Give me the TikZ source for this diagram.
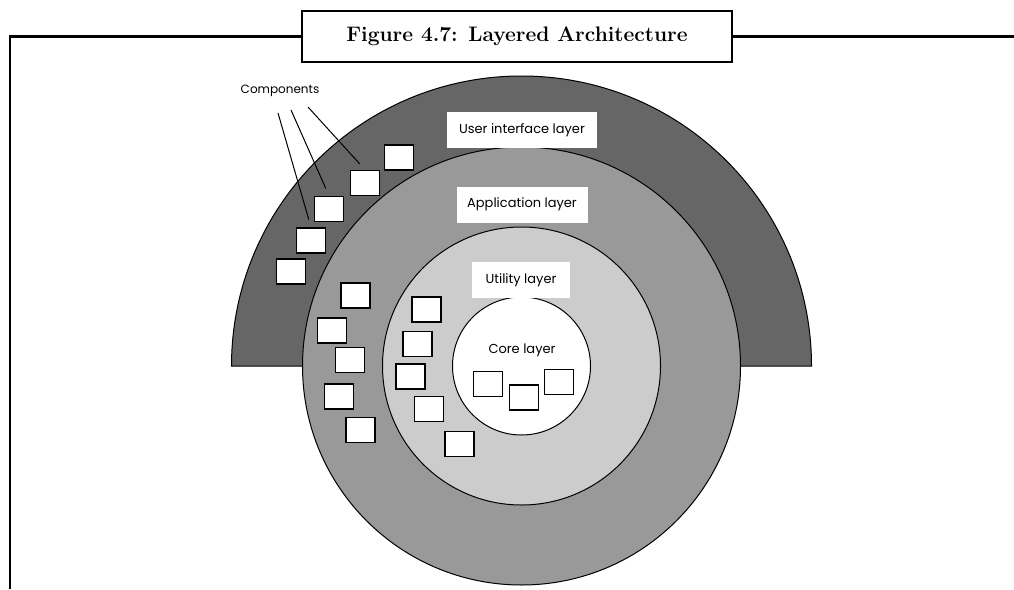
\documentclass[tikz,border=0pt]{standalone}
\usepackage{fontspec}
\newfontfamily\labelfont{Poppins}
\colorlet{uiGray}{black!60}
\colorlet{appGray}{black!40}
\colorlet{utilGray}{black!20}

\begin{document}
\begin{tikzpicture}[
    x=1pt, y=-1pt,
    layer/.style={circle, draw=black, line width=1pt, inner sep=0},
    comp/.style={
        rectangle,
        minimum width=29pt,
        minimum height=25pt,
        inner sep=0,
        draw=black,
        line width=1.6pt,
        fill=white,
      },
    lbl/.style={rectangle, fill=white, minimum height=36pt, inner xsep=9pt,
        font=\labelfont\fontsize{13}{15}\selectfont},
    pointer/.style={line width=1pt, shorten >=8pt},
  ]
  \useasboundingbox (0,0) rectangle (1014,589);

  % title and frame
  \node[draw=black, line width=2.2pt, minimum width=430pt, minimum height=51pt,
    font=\bfseries\fontsize{21}{24}\selectfont] (title) at (517,36.5)
    {Figure 4.7: Layered Architecture};
  \draw[line width=2.5pt] (10,589) |- (title.west);
  \draw[line width=2.5pt] (title.east) -- (1014,36.5);

  % layers
  \coordinate (ctr) at (521.5,366);
  \draw[line width=1pt, fill=uiGray] (ctr) ++(290,0)
    arc[start angle=0, end angle=-180, radius=290] -- cycle;
  \node[layer, fill=appGray, minimum size=438pt] (app) at (ctr) {};
  \node[layer, fill=utilGray, minimum size=278pt] (util) at (ctr) {};
  \node[layer, fill=white, minimum size=138pt] (core) at (ctr) {};

  \node[lbl, minimum width=150pt] (uiL) at (522,130) {User interface layer};
  \node[lbl, minimum width=131pt] (appL) at (522,204.5) {Application layer};
  \node[lbl, minimum width=98pt] (utilL) at (521,280) {Utility layer};
  \node[font=\labelfont\fontsize{13}{15}\selectfont] (coreL) at (522,350) {Core layer};

  % components in the user interface layer
  \node[comp] (u1) at (399,157.5) {};
  \node[comp] (u2) at (365,183) {};
  \node[comp] (u3) at (329,209) {};
  \node[comp] (u4) at (311,240.5) {};
  \node[comp] (u5) at (291,271.5) {};

  % components in the application layer
  \node[comp] (a1) at (355.5,295.5) {};
  \node[comp] (a2) at (332,330.5) {};
  \node[comp] (a3) at (350,360) {};
  \node[comp] (a4) at (339,396.5) {};
  \node[comp] (a5) at (360.5,430) {};

  % components in the utility layer
  \node[comp] (t1) at (426.5,309.5) {};
  \node[comp] (t2) at (417.5,344) {};
  \node[comp] (t3) at (410.5,376.5) {};
  \node[comp] (t4) at (429,409) {};
  \node[comp] (t5) at (459.5,444) {};

  % components in the core layer
  \node[comp] (c1) at (488,384) {};
  \node[comp] (c2) at (524,397.5) {};
  \node[comp] (c3) at (559,382) {};

  % pointer label
  \node[font=\labelfont\fontsize{12}{14}\selectfont] (compL) at (280,91) {Components};
  \coordinate (p1) at (278,113);
  \coordinate (p2) at (291,110);
  \coordinate (p3) at (308,107);
  \draw[pointer] (p1) -- (u4.north);
  \draw[pointer] (p2) -- (u3.north);
  \draw[pointer] (p3) -- (u2.north);
\end{tikzpicture}
\end{document}
